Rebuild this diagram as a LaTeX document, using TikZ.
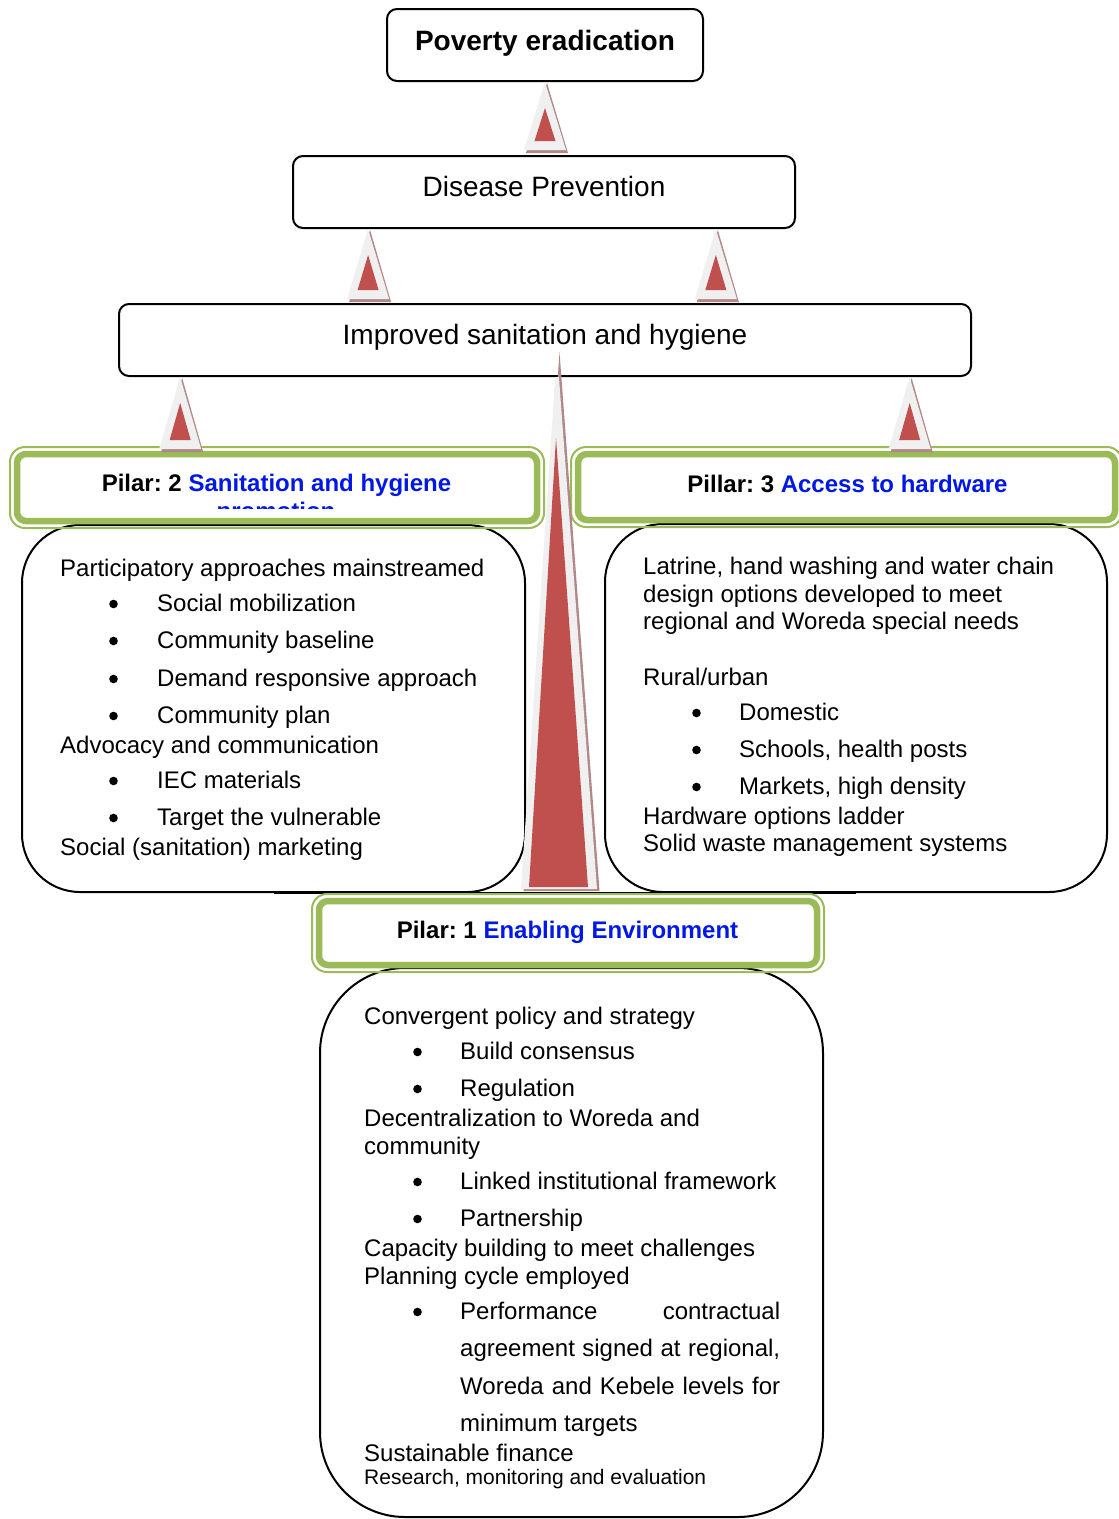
\documentclass[tikz,border=0pt]{standalone}
\usepackage{fontspec}
\setmainfont{Liberation Sans}
\usetikzlibrary{calc}

\definecolor{pgreen}{RGB}{155,187,89}
\definecolor{ablue}{RGB}{0,24,230}
\definecolor{ared}{RGB}{192,80,77}
\definecolor{agray}{RGB}{240,240,240}
\definecolor{ashade}{RGB}{178,135,135}

% small upward arrow: grey wedge with a red core and a soft shadow
% #1 = tip point, #2 = a point on the base line
\newcommand{\liftarrow}[2]{%
  \fill[ashade] let \p1=(#1), \p2=(#2) in
    (\x1+2pt,\y1-1pt) -- (\x1+23pt,\y2-3pt) -- (\x1-19pt,\y2-3pt) -- cycle;
  \fill[agray] let \p1=(#1), \p2=(#2) in
    (\x1,\y1) -- (\x1+21pt,\y2) -- (\x1-21pt,\y2) -- cycle;
  \fill[ared] let \p1=(#1), \p2=(#2) in
    (\x1,\y1-26pt) -- (\x1+10.5pt,\y2+9pt) -- (\x1-10.5pt,\y2+9pt) -- cycle;
}

\tikzset{
  goal/.style={draw, line width=2pt, rounded corners=10pt, fill=white, inner sep=0pt},
  pane/.style={draw, line width=2pt, fill=white, inner sep=0pt},
  pframe/.style={draw=pgreen, line width=2pt, rounded corners=15pt, inner sep=0pt},
  pband/.style={draw=pgreen, line width=6.5pt, rounded corners=9pt, fill=white},
  goaltext/.style={anchor=base, inner sep=0pt, font=\fontsize{28}{32}\selectfont},
  ptitle/.style={anchor=base, inner sep=0pt, font=\fontsize{24}{28}\selectfont\bfseries},
  body/.style={anchor=base west, inner sep=0pt, font=\fontsize{24}{28}\selectfont},
  smallbody/.style={anchor=base west, inner sep=0pt, font=\fontsize{21}{25}\selectfont},
  dot/.style={circle, fill, inner sep=0pt, minimum size=8.6pt},
}

\begin{document}
\frenchspacing
\begin{tikzpicture}[x=1pt, y=-1pt]
\useasboundingbox (0,0) rectangle (1119,1519);
\fill[white] (0,0) rectangle (1119,1519);

% goal boxes
\node[goal, minimum width=316pt, minimum height=72pt] (pov) at (545,45) {};
\node[goal, minimum width=502pt, minimum height=72pt] (dis) at (544,192) {};
\node[goal, minimum width=852pt, minimum height=72pt] (imp) at (545,340) {};
\node[goaltext, font=\fontsize{28}{32}\selectfont\bfseries] (povt) at (545,50) {Poverty eradication};
\node[goaltext] (dist) at (544,196) {Disease Prevention};
\node[goaltext] (impt) at (545,344) {Improved sanitation and hygiene};

% content panes of the three pillars
\node[pane, rounded corners=58pt, minimum width=503pt, minimum height=367pt] (lbox) at (273.5,708.5) {};
\node[pane, rounded corners=58pt, minimum width=502pt, minimum height=368pt] (rbox) at (856,708) {};
\node[pane, rounded corners=85pt, minimum width=503pt, minimum height=549pt] (bbox) at (571.5,1242.5) {};
\draw[line width=2pt] (lbox.south) -- (rbox.south);

% pillar title frames
\node[pframe, minimum width=534pt, minimum height=81pt] (p2) at (277,487.5) {};
\node[pframe, minimum width=551pt, minimum height=80pt] (p3) at (846.5,487) {};
\node[pframe, minimum width=512pt, minimum height=78pt] (p1) at (568,933) {};
\foreach \p in {p1,p2,p3}
  \draw[pband] ($(\p.north west)+(8,8)$) rectangle ($(\p.south east)+(-8,-8)$);

\node[ptitle] (p2t) at (276.5,491) {Pilar: 2 \textcolor{ablue}{Sanitation and hygiene}};
\begin{scope}
  \clip (0,440) rectangle (1119,508);
  \node[ptitle, text=ablue] (p2t2) at (276,519) {promotion};
\end{scope}
\node[ptitle] (p3t) at (847.5,492) {Pillar: 3 \textcolor{ablue}{Access to hardware}};
\node[ptitle] (p1t) at (567.5,938) {Pilar: 1 \textcolor{ablue}{Enabling Environment}};

% pillar 2 contents
\foreach \yy/\txt [count=\i] in {576/{Participatory approaches mainstreamed},
    753/{Advocacy and communication}, 855/{Social (sanitation) marketing}}
  \node[body] (lp\i) at (60,\yy) {\txt};
\foreach \yy/\txt [count=\i] in {611/{Social mobilization}, 648/{Community baseline},
    686/{Demand responsive approach}, 723/{Community plan}, 788/{IEC materials},
    825/{Target the vulnerable}} {
  \node[dot] (lbd\i) at (113.5,\yy-7) {};
  \node[body] (lbt\i) at (157,\yy) {\txt};
}

% pillar 3 contents
\foreach \yy/\txt [count=\i] in {574/{Latrine, hand washing and water chain},
    602/{design options developed to meet}, 629/{regional and Woreda special needs},
    685/{Rural/urban}, 824/{Hardware options ladder}, 851/{Solid waste management systems}}
  \node[body] (rp\i) at (643,\yy) {\txt};
\foreach \yy/\txt [count=\i] in {720/{Domestic}, 757/{Schools, health posts},
    794/{Markets, high density}} {
  \node[dot] (rbd\i) at (696.5,\yy-7) {};
  \node[body] (rbt\i) at (739,\yy) {\txt};
}

% pillar 1 contents
\foreach \yy/\txt [count=\i] in {1024/{Convergent policy and strategy},
    1126/{Decentralization to Woreda and}, 1154/{community},
    1256/{Capacity building to meet challenges}, 1284/{Planning cycle employed},
    1461/{Sustainable finance}}
  \node[body] (bp\i) at (364,\yy) {\txt};
\node[smallbody] (bp7) at (364,1484) {Research, monitoring and evaluation};
\foreach \yy/\txt [count=\i] in {1059/{Build consensus}, 1096/{Regulation},
    1189/{Linked institutional framework}, 1226/{Partnership},
    1319/{\makebox[320pt][s]{Performance contractual}}} {
  \node[dot] (bbd\i) at (417.5,\yy-7) {};
  \node[body] (bbt\i) at (460,\yy) {\txt};
}
\foreach \yy/\txt [count=\i] in {1356/{\makebox[320pt][s]{agreement signed at regional,}},
    1394/{\makebox[320pt][s]{Woreda and Kebele levels for}}, 1431/{minimum targets}}
  \node[body] (bc\i) at (460,\yy) {\txt};

% small arrows between levels
\liftarrow{pov.south}{$(dis.north)+(0,-5)$}
\liftarrow{$(dis.south west)!0.151!(dis.south east)$}{$(imp.north)+(0,-4)$}
\liftarrow{$(dis.south west)!0.841!(dis.south east)$}{$(imp.north)+(0,-4)$}
\liftarrow{$(imp.south west)!0.0728!(imp.south east)$}{$(p2.north)+(0,3)$}
\liftarrow{$(imp.south west)!0.927!(imp.south east)$}{$(p3.north)+(0,3)$}

% tall arrow from the enabling environment up to improved sanitation
\coordinate (bigtip) at ($(imp.south)+(12,-26)$);
\coordinate (bigbase) at ($(p1.north)+(-9,-4)$);
\fill[ashade] ($(bigtip)+(2.5,1)$) -- ($(bigbase)+(40.5,2)$) -- ($(bigbase)+(-35.5,2)$) -- cycle;
\begin{scope}
  \clip (0,377) rectangle (1119,1519);
  \fill[agray] (bigtip) -- ($(bigbase)+(38,0)$) -- ($(bigbase)+(-38,0)$) -- cycle;
\end{scope}
\fill[ared] ($(bigtip)+(-1,87)$) -- ($(bigbase)+(29,-2)$) -- ($(bigbase)+(-30,-2)$) -- cycle;
\end{tikzpicture}
\end{document}
